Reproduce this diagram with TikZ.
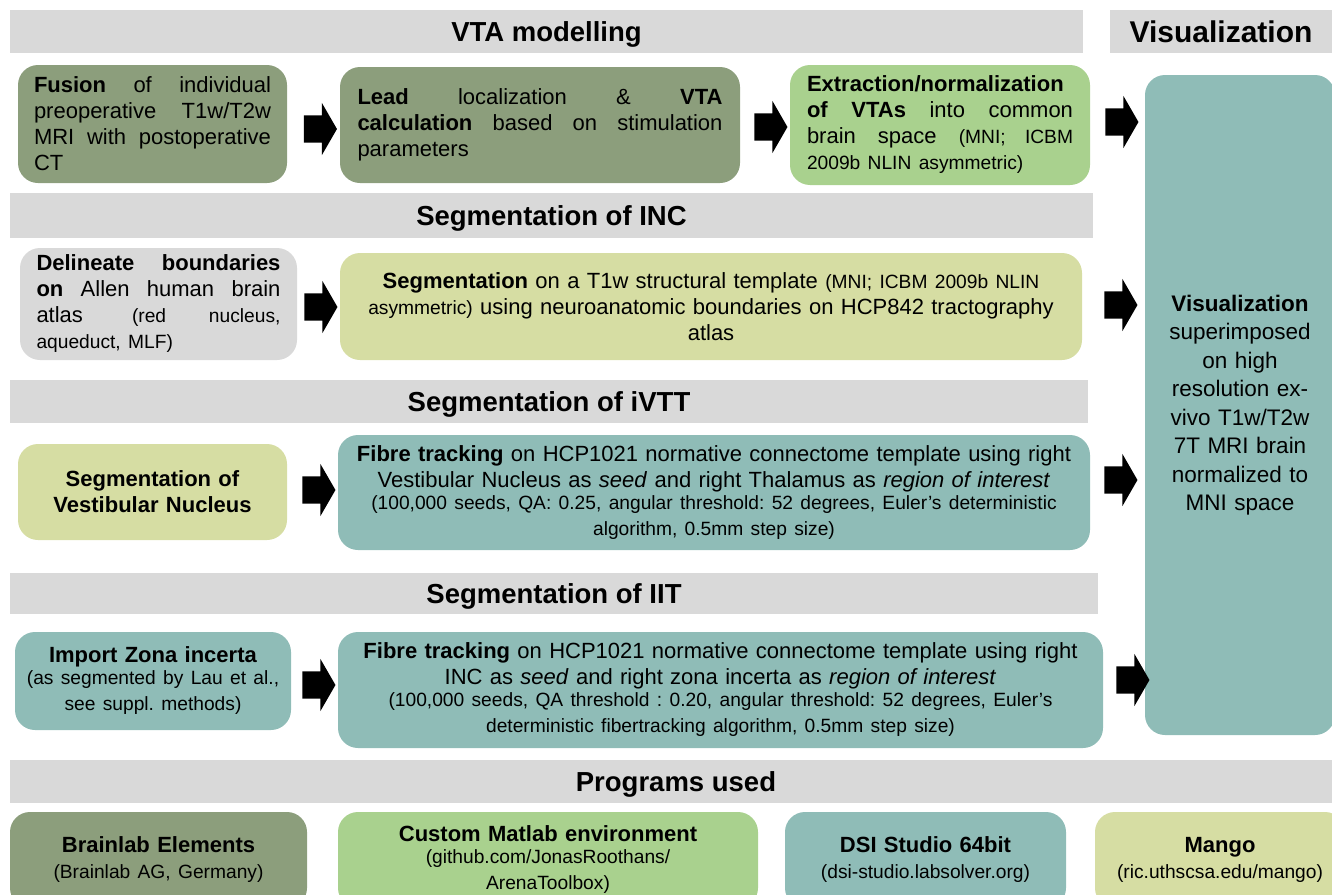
\documentclass[tikz,border=0pt]{standalone}
\usepackage{fontspec}
\setmainfont{Liberation Sans}
\usetikzlibrary{shapes.arrows}
\setlength{\parindent}{0pt}
\frenchspacing

\definecolor{bargray}{RGB}{217,217,217}
\definecolor{vtagreen}{RGB}{140,158,124}
\definecolor{extgreen}{RGB}{169,209,142}
\definecolor{segyellow}{RGB}{214,221,163}
\definecolor{tealbox}{RGB}{143,188,183}

\newcommand{\vtabody}{\fontsize{22}{26}\selectfont}
\newcommand{\vtasmall}{\fontsize{19.2}{22}\selectfont}
\newcommand{\vtahead}{\fontsize{27.5}{30}\selectfont\bfseries}
\newcommand{\jl}[2]{\makebox[#1][s]{\spaceskip=0pt\xspaceskip=0pt #2}}

\begin{document}
\begin{tikzpicture}[x=1pt, y=-1pt,
    bar/.style = {fill=bargray, inner sep=0pt, font=\vtahead, text height=19.7pt, text depth=0pt},
    box/.style = {rounded corners=20pt, inner sep=0pt, font=\vtabody},
    jbox/.style = {box, align=left},
    cbox/.style = {box, align=center},
    blockarrow/.style = {single arrow, fill=black, inner xsep=0pt, inner ysep=13.5pt,
    minimum height=33pt, single arrow head extend=12.5pt, single arrow tip angle=120}
    ]
    \useasboundingbox (0,0) rectangle (1332,894);
    \clip (0,0) rectangle (1332,894);

    \node[bar, minimum width=1073pt, minimum height=43pt] (vtabar) at (546.5,31.5) {VTA modelling};
    \node[bar, minimum width=222pt, minimum height=43pt, font=\fontsize{30}{33}\selectfont\bfseries,
      text height=21.5pt] (vizbar) at (1221,31.5) {Visualization};
    \node[bar, minimum width=1083pt, minimum height=45pt] (incbar) at (551.5,215.5) {Segmentation of INC};
    \node[bar, minimum width=1078pt, minimum height=43pt] (ivttbar) at (549,401.5) {Segmentation of iVTT};
    \node[bar, minimum width=1088pt, minimum height=41pt] (iitbar) at (554,593.5) {Segmentation of IIT};
    \node[bar, minimum width=1332pt, minimum height=43pt] (progbar) at (676,781.5) {Programs used};

    \node[jbox, fill=vtagreen, minimum width=269pt, minimum height=118pt, text width=237pt] (fusion) at (152.5,124)
      {\jl{237pt}{\textbf{Fusion} of individual}\\
       \jl{237pt}{preoperative T1w/T2w}\\
       \jl{237pt}{MRI with postoperative}\\
       CT};
    \node[jbox, fill=vtagreen, minimum width=400pt, minimum height=116pt, text width=365pt] (lead) at (540,125)
      {\jl{365pt}{\textbf{Lead} localization \& \textbf{VTA}}\\
       \jl{365pt}{\textbf{calculation} based on stimulation}\\
       parameters};
    \node[jbox, fill=extgreen, minimum width=300pt, minimum height=120pt, text width=266pt] (extract) at (940,125)
      {\jl{266pt}{\textbf{Extraction/normalization}}\\
       \jl{266pt}{\textbf{of VTAs} into common}\\
       \jl{266pt}{brain space {\vtasmall (MNI; ICBM}}\\
       {\vtasmall 2009b NLIN asymmetric)}};
    \node[cbox, fill=tealbox, minimum width=190pt, minimum height=660pt, text width=170pt,
      font=\fontsize{22.5}{28.5}\selectfont] (viz) at (1240,405)
      {\textbf{Visualization}\\ superimposed\\ on high\\ resolution ex-\\ vivo T1w/T2w\\
       7T MRI brain\\ normalized to\\ MNI space};

    \node[jbox, fill=bargray, minimum width=277pt, minimum height=112pt, text width=244pt] (delin) at (158.5,304)
      {\jl{244pt}{\textbf{Delineate boundaries}}\\
       \jl{244pt}{\textbf{on} Allen human brain}\\
       \jl{244pt}{atlas {\vtasmall (red nucleus,}}\\
       {\vtasmall aqueduct, MLF)}};
    \node[cbox, fill=segyellow, minimum width=742pt, minimum height=107pt, text width=730pt] (segINC) at (711,306.5)
      {\textbf{Segmentation} on a T1w structural template {\vtasmall (MNI; ICBM 2009b NLIN}\\
       {\vtasmall asymmetric)} using neuroanatomic boundaries on HCP842 tractography\\
       atlas};

    \node[cbox, fill=segyellow, minimum width=269pt, minimum height=96pt, text width=250pt] (vestib) at (152.5,492)
      {\textbf{Segmentation of}\\ \textbf{Vestibular Nucleus}};
    \node[cbox, fill=tealbox, minimum width=752pt, minimum height=115pt, text width=750pt] (fibreVTT) at (714,492.5)
      {\textbf{Fibre tracking} on HCP1021 normative connectome template using right\\
       Vestibular Nucleus as \textit{seed} and right Thalamus as \textit{region of interest}\\
       {\vtasmall (100,000 seeds, QA: 0.25, angular threshold: 52 degrees, Euler’s deterministic\\
       algorithm, 0.5mm step size)}};

    \node[cbox, fill=tealbox, minimum width=276pt, minimum height=98pt, text width=270pt] (zona) at (153,681)
      {\textbf{Import Zona incerta}\\ {\vtasmall (as segmented by Lau et al.,\\ see suppl. methods)}};
    \node[cbox, fill=tealbox, minimum width=765pt, minimum height=116pt, text width=760pt] (fibreIIT) at (720.5,690)
      {\textbf{Fibre tracking} on HCP1021 normative connectome template using right\\
       INC as \textit{seed} and right zona incerta as \textit{region of interest}\\
       {\vtasmall (100,000 seeds, QA threshold : 0.20, angular threshold: 52 degrees, Euler’s\\
       deterministic fibertracking algorithm, 0.5mm step size)}};

    \node[cbox, fill=vtagreen, minimum width=297pt, minimum height=96pt, text width=290pt] (brainlab) at (158.5,860)
      {\textbf{Brainlab Elements}\\ {\vtasmall (Brainlab AG, Germany)}};
    \node[cbox, fill=extgreen, minimum width=420pt, minimum height=96pt, text width=410pt] (matlab) at (548,860)
      {\textbf{Custom Matlab environment}\\ {\vtasmall (github.com/JonasRoothans/\\ ArenaToolbox)}};
    \node[cbox, fill=tealbox, minimum width=281pt, minimum height=96pt, text width=275pt] (dsi) at (925.5,860)
      {\textbf{DSI Studio 64bit}\\ {\vtasmall (dsi-studio.labsolver.org)}};
    \node[cbox, fill=segyellow, minimum width=250pt, minimum height=96pt, text width=245pt] (mango) at (1220,860)
      {\textbf{Mango}\\ {\vtasmall (ric.uthscsa.edu/mango)}};

    \node[blockarrow] (arr1) at (316.5,129) {};
    \node[blockarrow] (arr2) at (767,127) {};
    \node[blockarrow] (arr3) at (1118,122) {};
    \node[blockarrow] (arr4) at (317,307) {};
    \node[blockarrow] (arr5) at (1117,305) {};
    \node[blockarrow] (arr6) at (315,490) {};
    \node[blockarrow] (arr7) at (1117,480) {};
    \node[blockarrow] (arr8) at (315,685) {};
    \node[blockarrow] (arr9) at (1129,680) {};
\end{tikzpicture}
\end{document}
